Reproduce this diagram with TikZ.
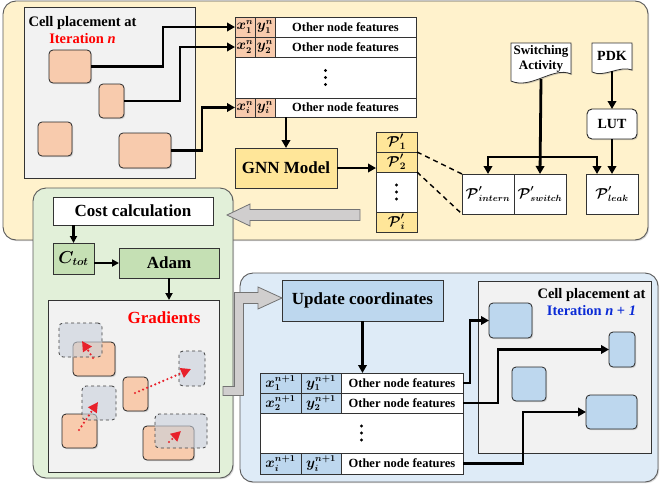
\documentclass[tikz,border=0pt]{standalone}
\usepackage{amsmath}
\usepackage{bm}
\usepackage{fontspec}
\setmainfont{Liberation Serif}
\usetikzlibrary{arrows.meta,calc,shadows}
\definecolor{panelY}{HTML}{FFF2CC}
\definecolor{panelG}{HTML}{E2F0D9}
\definecolor{panelB}{HTML}{DEEBF7}
\definecolor{boxGray}{HTML}{F2F2F2}
\definecolor{cellO}{HTML}{F8CBAD}
\definecolor{cellY}{HTML}{FFE699}
\definecolor{cellG}{HTML}{C5E0B4}
\definecolor{cellB}{HTML}{BDD7EE}
\definecolor{ghost}{HTML}{C9D0DB}
\definecolor{bigArrow}{HTML}{D0CECE}
\definecolor{edgeGray}{HTML}{595959}
\definecolor{redT}{HTML}{FF0000}
\definecolor{redA}{HTML}{E8212B}
\definecolor{blueT}{HTML}{0B2BD6}
\newcommand\mkbx[7]{\node[#2,inner sep=0pt,outer sep=0pt,minimum width={(#5-#3)*1pt},minimum height={(#6-#4)*1pt}] (#1) at ({(#3+#5)/2},{(#4+#6)/2}) {#7};}
\newcommand\vdotsat[1]{\foreach \dd in {-7,0,7} {\fill ($(#1.center)+(0,\dd)$) circle[radius=1.7pt];}}
\tikzset{
  shad/.style={drop shadow={shadow xshift=1.2pt,shadow yshift=-1.2pt,opacity=0.3}},
  panel/.style={draw=edgeGray,line width=0.9pt,rounded corners=13pt,shad},
  grayarea/.style={draw=black!80,line width=0.8pt,fill=boxGray,shad},
  tbl/.style={draw=black!80,line width=0.7pt,fill=white},
  xyO/.style={tbl,fill=cellO},
  xyB/.style={tbl,fill=cellB},
  pY/.style={tbl,fill=cellY},
  ttxt/.style={inner sep=1pt,font=\bfseries\fontsize{12.5}{14}\selectfont},
  mtxt/.style={inner sep=0.5pt,font=\fontsize{13.5}{15}\selectfont},
  ptxt/.style={inner sep=0.5pt,font=\fontsize{14}{16}\selectfont},
  cellbox/.style={draw=black!85,line width=0.8pt,rounded corners=4pt,shad},
  ocell/.style={cellbox,fill=cellO},
  bcell/.style={cellbox,fill=cellB},
  ghostbox/.style={draw=black!75,line width=0.8pt,dashed,rounded corners=4pt,fill=ghost,fill opacity=0.6},
  conn/.style={line width=2.8pt,line join=miter,-{Triangle[length=8pt,width=8.5pt]}},
  sconn/.style={line width=2.2pt,-{Triangle[length=7pt,width=7pt]}},
  redarr/.style={draw=redA,line width=2.4pt,line cap=round,dash pattern=on 0pt off 4.4pt,-{Triangle[length=10pt,width=10pt,fill=redA]}},
  bigbox/.style={draw=black!80,line width=0.8pt,shad},
  btxt/.style={inner sep=1pt,font=\bfseries\fontsize{17}{19}\selectfont},
  bigarrowst/.style={draw=black!55,line width=0.8pt,fill=bigArrow},
  docst/.style={draw=black!80,line width=0.8pt,fill=white,shad}
}
\begin{document}
\begin{tikzpicture}[x=1pt,y=-1pt]
\useasboundingbox (0,0) rectangle (660,485);

% ---------------- top yellow panel ----------------
\draw[panel,fill=panelY] (3,1) rectangle (648,240);

\draw[grayarea] (24,7) rectangle (195,178);
\node[align=center,font=\bfseries\fontsize{14.5}{17}\selectfont] (tl) at (82.5,30) {Cell placement at\\\textcolor{redT}{Iteration \textit{n}}};
\mkbx{c1}{ocell}{49}{50}{91}{83}{}
\mkbx{c2}{ocell}{99}{84}{124}{118}{}
\mkbx{c3}{ocell}{38}{122}{72}{156}{}
\mkbx{c4}{ocell}{119}{133}{171}{168}{}

% top table
\mkbx{r1x}{xyO}{235}{17}{255}{37}{}
\mkbx{r1y}{xyO}{255}{17}{275}{37}{}
\mkbx{r1o}{tbl}{275}{17}{416}{37}{}
\mkbx{r2x}{xyO}{235}{37}{255}{57}{}
\mkbx{r2y}{xyO}{255}{37}{275}{57}{}
\mkbx{r2o}{tbl}{275}{37}{416}{57}{}
\mkbx{rd}{tbl}{235}{57}{416}{98}{}
\mkbx{rix}{xyO}{235}{98}{255}{117}{}
\mkbx{riy}{xyO}{255}{98}{275}{117}{}
\mkbx{rio}{tbl}{275}{98}{416}{117}{}
\node[mtxt] at (r1x.center) {$\bm{x_1^n}$};
\node[mtxt] at (r1y.center) {$\bm{y_1^n}$};
\node[ttxt] at (r1o.center) {Other node features};
\node[mtxt] at (r2x.center) {$\bm{x_2^n}$};
\node[mtxt] at (r2y.center) {$\bm{y_2^n}$};
\node[ttxt] at (r2o.center) {Other node features};
\vdotsat{rd}
\node[mtxt] at (rix.center) {$\bm{x_i^n}$};
\node[mtxt] at (riy.center) {$\bm{y_i^n}$};
\node[ttxt] at (rio.center) {Other node features};

\draw[conn] (c1.east) -- ++(72,0) |- (r1x.west);
\draw[conn] (c2.east) -- ++(56,0) |- (r2x.west);
\draw[conn] (c4.east) -- ++(31,0) |- (rix.west);

% GNN
\mkbx{gnn}{bigbox,fill=cellY}{235}{148}{337}{188}{}
\node[btxt] at (gnn.center) {GNN Model};
\draw[conn] (rio.south -| gnn.north) -- (gnn.north);

% P table
\mkbx{p1}{pY}{376}{132}{417}{152}{}
\mkbx{p2}{pY}{376}{152}{417}{172}{}
\mkbx{pd}{tbl}{376}{172}{417}{212}{}
\mkbx{pi}{pY}{376}{212}{417}{232}{}
\node[ptxt] at (p1.center) {$\bm{\mathcal{P}'_1}$};
\node[ptxt] at (p2.center) {$\bm{\mathcal{P}'_2}$};
\vdotsat{pd}
\node[ptxt] at (pi.center) {$\bm{\mathcal{P}'_i}$};
\draw[conn] (gnn.east) -- (gnn.east -| p2.west);

% power boxes
\mkbx{pin}{tbl,shad}{462}{174}{514}{214}{}
\mkbx{psw}{tbl,shad}{514}{174}{566}{214}{}
\mkbx{plk}{tbl,shad}{586}{174}{638}{214}{}
\node[inner sep=0.5pt,font=\fontsize{13.5}{15}\selectfont] at (pin.center) {$\bm{\mathcal{P}'_{intern}}$};
\node[inner sep=0.5pt,font=\fontsize{13.5}{15}\selectfont] at (psw.center) {$\bm{\mathcal{P}'_{switch}}$};
\node[inner sep=0.5pt,font=\fontsize{13.5}{15}\selectfont] at (plk.center) {$\bm{\mathcal{P}'_{leak}}$};
\draw[line width=1.4pt,dash pattern=on 5pt off 4pt] (p2.north east) -- (pin.north west);
\draw[line width=1.4pt,dash pattern=on 5pt off 4pt] (p2.south east) -- (pin.south west);

% documents
\draw[docst] (511,43) -- (571,43) -- (571,74) .. controls (553,66) and (531,90) .. (511,81) -- cycle;
\node[align=center,font=\bfseries\fontsize{13}{15}\selectfont] (sw) at (541,59) {Switching\\Activity};
\coordinate (swb) at (541,79);
\draw[docst] (592,43) -- (632,43) -- (632,70) .. controls (620,65) and (604,78) .. (592,72) -- cycle;
\node[font=\bfseries\fontsize{14}{16}\selectfont] (pdk) at (612,56) {PDK};
\coordinate (pdkb) at (612,71);
\mkbx{lut}{draw=black!85,line width=0.9pt,fill=white,rounded corners=5pt,shad}{587}{109}{637}{139}{}
\node[font=\bfseries\fontsize{14}{16}\selectfont] at (lut.center) {LUT};

\coordinate (hj) at (541,157);
\draw[conn] (swb) -- (psw.north);
\draw[conn] (hj) -| (pin.north);
\draw[conn] (hj) -| ($(plk.north west)+(11,0)$);
\draw[conn] (pdkb) -- (lut.north);
\draw[conn] (lut.south) -- (plk.north);

% ---------------- green panel ----------------
\draw[panel,fill=panelG] (33,188) rectangle (233,478);
\mkbx{cost}{bigbox,fill=white}{53}{197}{213}{225}{}
\mkbx{ctot}{bigbox,fill=cellG}{53}{243}{94}{274}{}
\mkbx{adam}{bigbox,fill=cellG}{119}{248}{219}{278}{}
\node[btxt] at (cost.center) {Cost calculation};
\node[inner sep=0.5pt,font=\fontsize{16}{18}\selectfont] at (ctot.center) {$\bm{C_{tot}}$};
\node[btxt] at (adam.center) {Adam};
\draw[sconn] (cost.south -| ctot.north) -- (ctot.north);
\draw[sconn] (ctot.east |- adam.west) -- (adam.west);

\draw[grayarea] (48,300) rectangle (219,472);
\coordinate (gtop) at (169,300);
\draw[sconn] (adam.south) -- (gtop);
\node[text=redT,font=\bfseries\fontsize{17}{19}\selectfont] (gr) at (164,318) {Gradients};

\mkbx{ga}{ocell}{73}{342}{115}{376}{}
\mkbx{gb}{ocell}{123}{377}{148}{411}{}
\mkbx{gc}{ocell}{62}{414}{97}{448}{}
\mkbx{gd}{ocell}{143}{426}{194}{460}{}
\mkbx{ha}{ghostbox}{59}{323}{102}{357}{}
\mkbx{hb}{ghostbox}{179}{351}{205}{386}{}
\mkbx{hc}{ghostbox}{82}{386}{116}{420}{}
\mkbx{hd}{ghostbox}{155}{414}{207}{448}{}
\coordinate (sa) at (93,358); \coordinate (ta) at (82,341);
\coordinate (sb) at (135,393); \coordinate (tb) at (191,369);
\coordinate (sc) at (79,430); \coordinate (tc) at (98,402);
\coordinate (sd) at (169,442); \coordinate (td) at (181,431);
\draw[redarr] (sa) -- (ta);
\draw[redarr] (sb) -- (tb);
\draw[redarr] (sc) -- (tc);
\draw[redarr] (sd) -- (td);

% big gray arrow P -> cost
\draw[bigarrowst] (360,209.5) -- (250,209.5) -- (250,204) -- (227,215) -- (250,226) -- (250,220.5) -- (360,220.5) -- cycle;

% ---------------- blue panel ----------------
\draw[panel,fill=panelB] (240,273) rectangle (658,482);
\mkbx{upd}{bigbox,fill=cellB}{282}{280}{443}{321}{}
\node[btxt] at (upd.center) {Update coordinates};

% L-shaped gray arrow
\draw[bigarrowst] (223,386.5) -- (234.5,386.5) -- (234.5,292.5) -- (258,292.5) -- (258,287) -- (282,298) -- (258,309) -- (258,303.5) -- (243.5,303.5) -- (243.5,395.5) -- (223,395.5) -- cycle;

% bottom table
\mkbx{b1x}{xyB}{260}{373}{301}{393}{}
\mkbx{b1y}{xyB}{301}{373}{341}{393}{}
\mkbx{b1o}{tbl}{341}{373}{463}{393}{}
\mkbx{b2x}{xyB}{260}{393}{301}{413}{}
\mkbx{b2y}{xyB}{301}{393}{341}{413}{}
\mkbx{b2o}{tbl}{341}{393}{463}{413}{}
\mkbx{bd}{tbl}{260}{413}{463}{453}{}
\mkbx{bix}{xyB}{260}{453}{301}{474}{}
\mkbx{biy}{xyB}{301}{453}{341}{474}{}
\mkbx{bio}{tbl}{341}{453}{463}{474}{}
\node[mtxt] at (b1x.center) {$\bm{x_1^{n+1}}$};
\node[mtxt] at (b1y.center) {$\bm{y_1^{n+1}}$};
\node[ttxt] at (b1o.center) {Other node features};
\node[mtxt] at (b2x.center) {$\bm{x_2^{n+1}}$};
\node[mtxt] at (b2y.center) {$\bm{y_2^{n+1}}$};
\node[ttxt] at (b2o.center) {Other node features};
\vdotsat{bd}
\node[mtxt] at (bix.center) {$\bm{x_i^{n+1}}$};
\node[mtxt] at (biy.center) {$\bm{y_i^{n+1}}$};
\node[ttxt] at (bio.center) {Other node features};
\draw[conn] (upd.south) -- (upd.south |- b1o.north);

% right gray box
\draw[grayarea] (478,281) rectangle (651,453);
\node[align=center,font=\bfseries\fontsize{14.5}{17}\selectfont] (tr) at (591.5,302) {Cell placement at\\\textcolor{blueT}{Iteration \textit{n} + \textit{1}}};
\mkbx{e1}{bcell}{489}{303}{532}{338}{}
\mkbx{e2}{bcell}{609}{332}{635}{367}{}
\mkbx{e3}{bcell}{512}{367}{546}{401}{}
\mkbx{e4}{bcell}{586}{395}{637}{429}{}
\draw[conn] (b1o.east) -- ++(7,0) |- (e1.west);
\draw[conn] (b2o.east) -- ++(35,0) |- (e2.west);
\draw[conn] (bio.east) -- ++(60,0) |- (e4.west);
\end{tikzpicture}
\end{document}
